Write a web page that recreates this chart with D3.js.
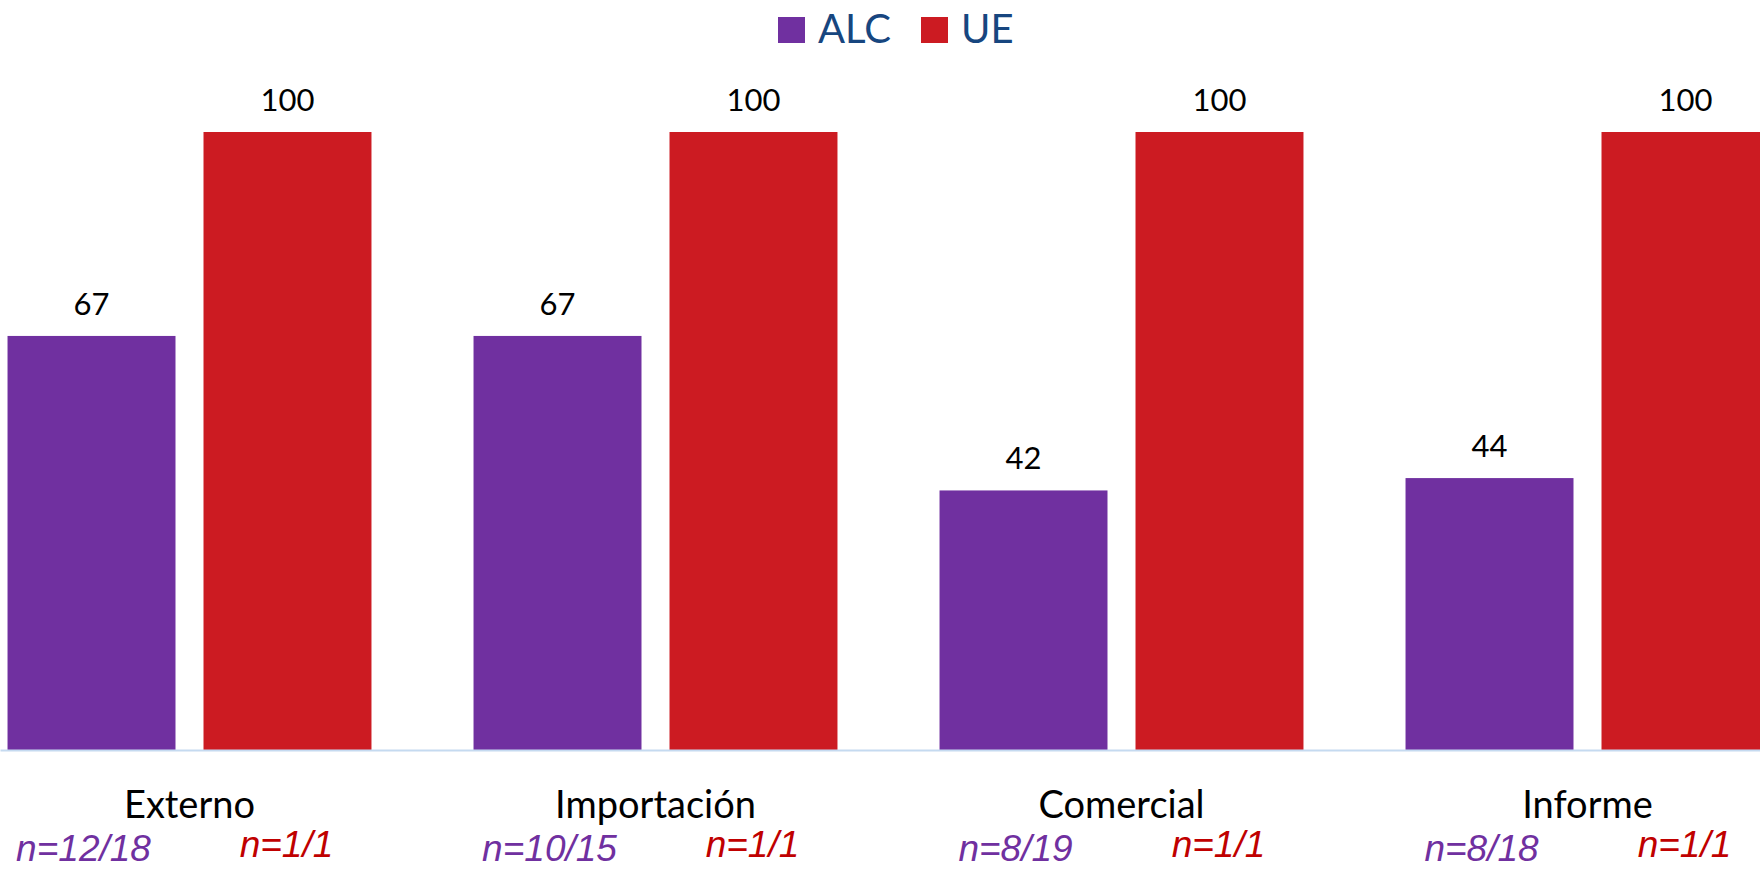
<!DOCTYPE html>
<html>
<head>
<meta charset="utf-8">
<script src="https://cdn.jsdelivr.net/npm/d3@7"></script>
<style>
  html, body { margin: 0; padding: 0; background: #ffffff; overflow: hidden; }
  svg { display: block; }
</style>
</head>
<body>
<svg id="chart" width="1760" height="870"></svg>
<script>
// ---- data ----
const categories = ["Externo", "Importación", "Comercial", "Informe"];
const seriesNames = ["ALC", "UE"];
const alcValues = [67, 67, 42, 44];
const ueValues = [100, 100, 100, 100];
const alcN = ["n=12/18", "n=10/15", "n=8/19", "n=8/18"];
const ueN = ["n=1/1", "n=1/1", "n=1/1", "n=1/1"];

// ---- styles ----
const colors = { ALC: "#7030a0", UE: "#cc1b22" };
const nColors = { ALC: "#7030a0", UE: "#c00000" };
const nShift = { ALC: -8, UE: -1 };
const nBase = { ALC: 861, UE: 857 };
const legendColor = "#17467f";

const W = 1760, H = 870;
const baseY = 750;
const topY = 132;

const svg = d3.select("#chart");

const x0 = d3.scaleBand()
  .domain(categories)
  .range([-43.5, -43.5 + 4 * 466])
  .paddingInner(0.219)
  .paddingOuter(0.1095);

const x1 = d3.scaleBand()
  .domain(seriesNames)
  .range([0, x0.bandwidth()])
  .paddingInner(0.1429)
  .paddingOuter(0);

const y = d3.scaleLinear().domain([0, 100]).range([baseY, topY]);

const rows = categories.map((c, i) => ({
  cat: c,
  vals: [
    { s: "ALC", v: alcValues[i], n: alcN[i] },
    { s: "UE", v: ueValues[i], n: ueN[i] }
  ]
}));

const g = svg.selectAll("g.grp").data(rows).join("g")
  .attr("class", "grp")
  .attr("transform", d => `translate(${x0(d.cat)},0)`);

g.selectAll("rect").data(d => d.vals).join("rect")
  .attr("x", d => x1(d.s))
  .attr("y", d => y(d.v))
  .attr("width", x1.bandwidth())
  .attr("height", d => y(0) - y(d.v))
  .attr("fill", d => colors[d.s]);

g.selectAll("text.val").data(d => d.vals).join("text")
  .attr("class", "val")
  .attr("x", d => x1(d.s) + x1.bandwidth() / 2)
  .attr("y", d => y(d.v) - 21)
  .attr("text-anchor", "middle")
  .attr("font-family", "Lato, 'Open Sans', sans-serif")
  .attr("font-size", 31)
  .attr("fill", "#000")
  .text(d => d.v);

// axis line
const axis = svg.append("g").attr("transform", `translate(0,${baseY})`)
  .call(d3.axisBottom(d3.scaleLinear().domain([0, 1]).range([0, W])).tickValues([]).tickSizeOuter(0));
axis.select(".domain").attr("stroke", "#c5daf0").attr("stroke-width", 2);

// category labels
g.append("text")
  .attr("x", x0.bandwidth() / 2)
  .attr("y", 818)
  .attr("text-anchor", "middle")
  .attr("font-family", "Lato, 'Open Sans', sans-serif")
  .attr("font-size", 38)
  .attr("fill", "#000")
  .text(d => d.cat);

// n labels
g.selectAll("text.n").data(d => d.vals).join("text")
  .attr("class", "n")
  .attr("x", d => x1(d.s) + x1.bandwidth() / 2 + nShift[d.s])
  .attr("y", d => nBase[d.s])
  .attr("text-anchor", "middle")
  .attr("font-family", "'Liberation Sans', Arial, sans-serif")
  .attr("font-style", "italic")
  .attr("font-size", 37)
  .attr("fill", d => nColors[d.s])
  .text(d => d.n);

// legend
const legend = svg.append("g").attr("class", "legend");
let lx = 778;
seriesNames.forEach(s => {
  legend.append("rect")
    .attr("x", lx).attr("y", 17).attr("width", 27).attr("height", 26)
    .attr("fill", colors[s]);
  const t = legend.append("text")
    .attr("x", lx + 40).attr("y", 43)
    .attr("font-family", "Lato, 'Open Sans', sans-serif")
    .attr("font-size", 40)
    .attr("fill", legendColor)
    .text(s);
  lx = lx + 40 + t.node().getComputedTextLength() + 30;
});
</script>
</body>
</html>
